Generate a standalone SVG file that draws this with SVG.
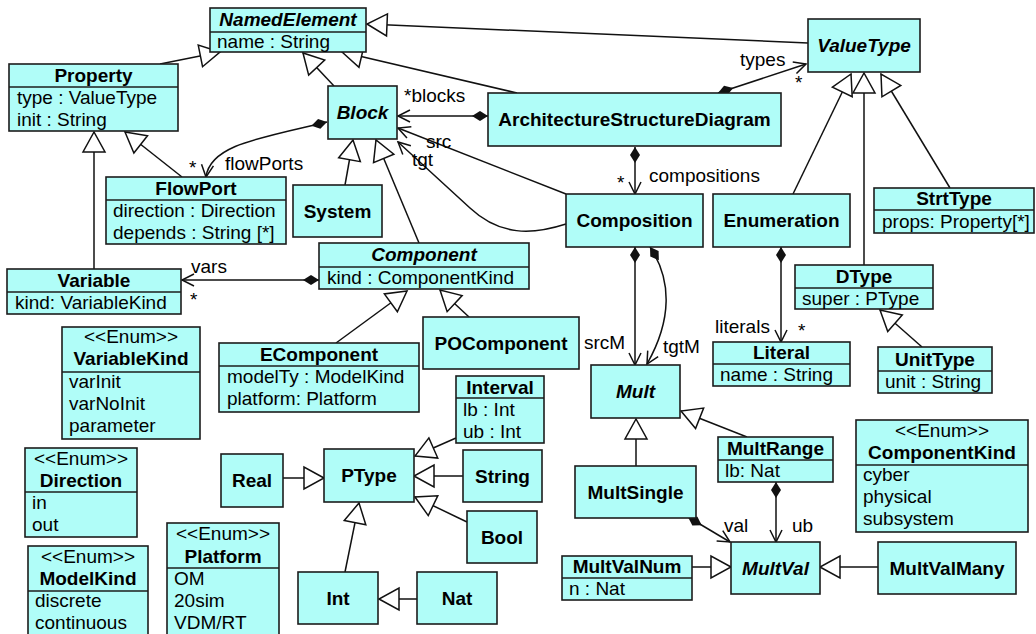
<svg xmlns="http://www.w3.org/2000/svg" width="1036" height="634" viewBox="0 0 1036 634">
  <style>
    .box { fill: #b0fdf8; stroke: #1c1c1c; stroke-width: 1.6; }
    .div { stroke: #1c1c1c; stroke-width: 1.6; }
    .t { font-family: "Liberation Sans", Arial, Helvetica, sans-serif; font-size: 19px; fill: #000; }
    .b { font-weight: bold; }
    .i { font-style: italic; }
    .c { text-anchor: middle; }
    .edge { fill: none; stroke: #111; stroke-width: 1.5; }
    .gen { marker-end: url(#gen); }
    .comp { marker-start: url(#dia); marker-end: url(#arr); }
    .assoc { marker-end: url(#arr); }
  </style>
  <defs>
    <!-- hollow triangle: generalization -->
    <marker id="gen" markerUnits="userSpaceOnUse" viewBox="-22 -13 24 26" markerWidth="24" markerHeight="26" refX="0" refY="0" orient="auto" style="overflow:visible">
      <path d="M0,0 L-20,-11 L-20,11 Z" fill="#fff" stroke="#111" stroke-width="1.5"/>
    </marker>
    <!-- open arrowhead: navigable end -->
    <marker id="arr" markerUnits="userSpaceOnUse" viewBox="-14 -8 16 16" markerWidth="16" markerHeight="16" refX="0" refY="0" orient="auto" style="overflow:visible">
      <path d="M-12,-6 L0,0 L-12,6" fill="none" stroke="#111" stroke-width="1.5"/>
    </marker>
    <!-- filled diamond: composition owner -->
    <marker id="dia" markerUnits="userSpaceOnUse" viewBox="-1 -7 18 14" markerWidth="18" markerHeight="14" refX="0" refY="0" orient="auto" style="overflow:visible">
      <path d="M0,0 L8,-5 L16,0 L8,5 Z" fill="#111"/>
    </marker>
  </defs>

  <!-- connectors -->
  <g id="connectors">
    <!-- generalizations -->
    <path class="edge gen" d="M160,64 L220,52"/>
    <path class="edge gen" d="M334,86 L303,53"/>
    <path class="edge gen" d="M517,93 L342,52"/>
    <path class="edge gen" d="M808,43 L367,24"/>
    <path class="edge gen" d="M182,177 L125,132"/>
    <path class="edge gen" d="M94,269 L94,132"/>
    <path class="edge gen" d="M345,185 L353,140"/>
    <path class="edge gen" d="M419,243 L376,140"/>
    <path class="edge gen" d="M336,343 L407,291"/>
    <path class="edge gen" d="M469,317 L440,290"/>
    <path class="edge gen" d="M793,194 L851,74"/>
    <path class="edge gen" d="M864,265 L864,73"/>
    <path class="edge gen" d="M950,188 L881,74"/>
    <path class="edge gen" d="M922,347 L880,310"/>
    <path class="edge gen" d="M283,478 L324,478"/>
    <path class="edge gen" d="M456,438 L415,456"/>
    <path class="edge gen" d="M463,476 L414,476"/>
    <path class="edge gen" d="M467,522 L415,497"/>
    <path class="edge gen" d="M345,572 L359,503"/>
    <path class="edge gen" d="M417,599 L379,599"/>
    <path class="edge gen" d="M636,466 L636,419"/>
    <path class="edge gen" d="M747,437 L681,411"/>
    <path class="edge gen" d="M692,567 L731,567"/>
    <path class="edge gen" d="M878,567 L820,567"/>

    <!-- compositions -->
    <path class="edge comp" d="M488,116 L398,116"/>
    <path class="edge comp" d="M718,93 L806,64"/>
    <path class="edge comp" d="M635,147 L635,194"/>
    <path class="edge comp" d="M327,122 C260,138 210,145 206,177"/>
    <path class="edge comp" d="M319,280 L182,280"/>
    <path class="edge comp" d="M635,247 L635,365"/>
    <path class="edge comp" d="M650,247 C672,280 672,320 647,364"/>
    <path class="edge comp" d="M781,247 L781,342"/>
    <path class="edge comp" d="M688,517 L730,542"/>
    <path class="edge comp" d="M776,482 L776,542"/>

    <!-- associations -->
    <path class="edge assoc" d="M566,194 L398,128"/>
    <path class="edge assoc" d="M566,224 C532,235 500,236 470,208 L398,142"/>

    <!-- role names and multiplicities -->
    <text class="t" x="404" y="102">*blocks</text>
    <text class="t" x="740" y="66">types</text>
    <text class="t" x="795" y="89">*</text>
    <text class="t" x="617" y="189">*</text>
    <text class="t" x="649" y="182">compositions</text>
    <text class="t" x="189" y="174">*</text>
    <text class="t" x="225" y="170">flowPorts</text>
    <text class="t" x="426" y="148">src</text>
    <text class="t" x="412" y="166">tgt</text>
    <text class="t" x="191" y="273">vars</text>
    <text class="t" x="190" y="306">*</text>
    <text class="t" x="584" y="349">srcM</text>
    <text class="t" x="663" y="353">tgtM</text>
    <text class="t" x="715" y="333">literals</text>
    <text class="t" x="798" y="337">*</text>
    <text class="t" x="724" y="532">val</text>
    <text class="t" x="792" y="532">ub</text>
  </g>

  <!-- classes -->
  <g id="NamedElement">
    <rect class="box" x="210" y="8" width="156" height="44"/>
    <line class="div" x1="210" y1="32" x2="366" y2="32"/>
    <text class="t b i c" x="288" y="26">NamedElement</text>
    <text class="t" x="217" y="48">name : String</text>
  </g>
  <g id="Property">
    <rect class="box" x="9" y="64" width="169" height="67"/>
    <line class="div" x1="9" y1="87" x2="178" y2="87"/>
    <text class="t b c" x="93.5" y="82">Property</text>
    <text class="t" x="17" y="104">type : ValueType</text>
    <text class="t" x="17" y="126">init : String</text>
  </g>
  <g id="FlowPort">
    <rect class="box" x="106" y="177" width="180" height="67"/>
    <line class="div" x1="106" y1="200" x2="286" y2="200"/>
    <text class="t b c" x="196" y="195">FlowPort</text>
    <text class="t" x="113" y="217">direction : Direction</text>
    <text class="t" x="113" y="239">depends : String [*]</text>
  </g>
  <g id="Variable">
    <rect class="box" x="7" y="269" width="174" height="45"/>
    <line class="div" x1="7" y1="292" x2="181" y2="292"/>
    <text class="t b c" x="94" y="287">Variable</text>
    <text class="t" x="15" y="309">kind: VariableKind</text>
  </g>
  <g id="Block">
    <rect class="box" x="328" y="86" width="69" height="53"/>
    <text class="t b i c" x="362.5" y="119">Block</text>
  </g>
  <g id="System">
    <rect class="box" x="293" y="185" width="89" height="52"/>
    <text class="t b c" x="337.5" y="218">System</text>
  </g>
  <g id="ArchitectureStructureDiagram">
    <rect class="box" x="488" y="93" width="293" height="53"/>
    <text class="t b c" x="634.5" y="126">ArchitectureStructureDiagram</text>
  </g>
  <g id="Component">
    <rect class="box" x="319" y="243" width="210" height="46"/>
    <line class="div" x1="319" y1="267" x2="529" y2="267"/>
    <text class="t b i c" x="424" y="261">Component</text>
    <text class="t" x="327" y="284">kind : ComponentKind</text>
  </g>
  <g id="EComponent">
    <rect class="box" x="219" y="343" width="200" height="69"/>
    <line class="div" x1="219" y1="366" x2="419" y2="366"/>
    <text class="t b c" x="319" y="361">EComponent</text>
    <text class="t" x="227" y="383">modelTy : ModelKind</text>
    <text class="t" x="227" y="405">platform: Platform</text>
  </g>
  <g id="POComponent">
    <rect class="box" x="423" y="317" width="156" height="52"/>
    <text class="t b c" x="501" y="350">POComponent</text>
  </g>
  <g id="Composition">
    <rect class="box" x="566" y="194" width="137" height="53"/>
    <text class="t b c" x="634.5" y="227">Composition</text>
  </g>
  <g id="Enumeration">
    <rect class="box" x="713" y="194" width="137" height="53"/>
    <text class="t b c" x="781.5" y="227">Enumeration</text>
  </g>
  <g id="ValueType">
    <rect class="box" x="808" y="19" width="112" height="53"/>
    <text class="t b i c" x="864" y="52">ValueType</text>
  </g>
  <g id="StrtType">
    <rect class="box" x="874" y="188" width="160" height="45"/>
    <line class="div" x1="874" y1="210" x2="1034" y2="210"/>
    <text class="t b c" x="954" y="205">StrtType</text>
    <text class="t" x="882" y="228">props: Property[*]</text>
  </g>
  <g id="DType">
    <rect class="box" x="795" y="265" width="138" height="44"/>
    <line class="div" x1="795" y1="288" x2="933" y2="288"/>
    <text class="t b c" x="864" y="283">DType</text>
    <text class="t" x="802" y="305">super : PType</text>
  </g>
  <g id="Literal">
    <rect class="box" x="713" y="342" width="137" height="44"/>
    <line class="div" x1="713" y1="364" x2="850" y2="364"/>
    <text class="t b c" x="781.5" y="359">Literal</text>
    <text class="t" x="720" y="381">name : String</text>
  </g>
  <g id="UnitType">
    <rect class="box" x="878" y="347" width="114" height="46"/>
    <line class="div" x1="878" y1="371" x2="992" y2="371"/>
    <text class="t b c" x="935" y="366">UnitType</text>
    <text class="t" x="885" y="388">unit : String</text>
  </g>
  <g id="Mult">
    <rect class="box" x="591" y="365" width="89" height="53"/>
    <text class="t b i c" x="635.5" y="398">Mult</text>
  </g>
  <g id="MultRange">
    <rect class="box" x="718" y="437" width="115" height="45"/>
    <line class="div" x1="718" y1="460" x2="833" y2="460"/>
    <text class="t b c" x="775.5" y="455">MultRange</text>
    <text class="t" x="725" y="477">lb: Nat</text>
  </g>
  <g id="MultSingle">
    <rect class="box" x="575" y="466" width="121" height="52"/>
    <text class="t b c" x="635.5" y="499">MultSingle</text>
  </g>
  <g id="MultVal">
    <rect class="box" x="731" y="542" width="89" height="52"/>
    <text class="t b i c" x="775.5" y="575">MultVal</text>
  </g>
  <g id="MultValNum">
    <rect class="box" x="562" y="556" width="130" height="44"/>
    <line class="div" x1="562" y1="578" x2="692" y2="578"/>
    <text class="t b c" x="627" y="573">MultValNum</text>
    <text class="t" x="569" y="595">n : Nat</text>
  </g>
  <g id="MultValMany">
    <rect class="box" x="878" y="542" width="138" height="52"/>
    <text class="t b c" x="947" y="575">MultValMany</text>
  </g>
  <g id="ComponentKind">
    <rect class="box" x="856" y="420" width="172" height="112"/>
    <line class="div" x1="856" y1="465" x2="1028" y2="465"/>
    <text class="t c" x="942" y="437">&lt;&lt;Enum&gt;&gt;</text>
    <text class="t b c" x="942" y="459">ComponentKind</text>
    <text class="t" x="863" y="481">cyber</text>
    <text class="t" x="863" y="503">physical</text>
    <text class="t" x="863" y="525">subsystem</text>
  </g>
  <g id="VariableKind">
    <rect class="box" x="62" y="327" width="138" height="112"/>
    <line class="div" x1="62" y1="372" x2="200" y2="372"/>
    <text class="t c" x="131" y="343">&lt;&lt;Enum&gt;&gt;</text>
    <text class="t b c" x="131" y="365">VariableKind</text>
    <text class="t" x="69" y="388">varInit</text>
    <text class="t" x="69" y="410">varNoInit</text>
    <text class="t" x="69" y="432">parameter</text>
  </g>
  <g id="Direction">
    <rect class="box" x="25" y="448" width="112" height="89"/>
    <line class="div" x1="25" y1="492" x2="137" y2="492"/>
    <text class="t c" x="81" y="465">&lt;&lt;Enum&gt;&gt;</text>
    <text class="t b c" x="81" y="487">Direction</text>
    <text class="t" x="32" y="509">in</text>
    <text class="t" x="32" y="531">out</text>
  </g>
  <g id="ModelKind">
    <rect class="box" x="28" y="546" width="120" height="96"/>
    <line class="div" x1="28" y1="591" x2="148" y2="591"/>
    <text class="t c" x="88" y="563">&lt;&lt;Enum&gt;&gt;</text>
    <text class="t b c" x="88" y="585">ModelKind</text>
    <text class="t" x="35" y="607">discrete</text>
    <text class="t" x="35" y="629">continuous</text>
  </g>
  <g id="Platform">
    <rect class="box" x="167" y="523" width="112" height="119"/>
    <line class="div" x1="167" y1="568" x2="279" y2="568"/>
    <text class="t c" x="223" y="540">&lt;&lt;Enum&gt;&gt;</text>
    <text class="t b c" x="223" y="563">Platform</text>
    <text class="t" x="174" y="585">OM</text>
    <text class="t" x="174" y="607">20sim</text>
    <text class="t" x="174" y="629">VDM/RT</text>
  </g>
  <g id="Interval">
    <rect class="box" x="456" y="376" width="88" height="67"/>
    <line class="div" x1="456" y1="398" x2="544" y2="398"/>
    <text class="t b c" x="500" y="394">Interval</text>
    <text class="t" x="463" y="416">lb : Int</text>
    <text class="t" x="463" y="438">ub : Int</text>
  </g>
  <g id="Real">
    <rect class="box" x="221" y="454" width="62" height="53"/>
    <text class="t b c" x="252" y="487">Real</text>
  </g>
  <g id="PType">
    <rect class="box" x="324" y="449" width="90" height="53"/>
    <text class="t b c" x="369" y="482">PType</text>
  </g>
  <g id="String">
    <rect class="box" x="463" y="450" width="79" height="52"/>
    <text class="t b c" x="502.5" y="483">String</text>
  </g>
  <g id="Bool">
    <rect class="box" x="467" y="511" width="70" height="52"/>
    <text class="t b c" x="502" y="544">Bool</text>
  </g>
  <g id="Int">
    <rect class="box" x="298" y="572" width="80" height="52"/>
    <text class="t b c" x="338" y="605">Int</text>
  </g>
  <g id="Nat">
    <rect class="box" x="417" y="572" width="80" height="52"/>
    <text class="t b c" x="457" y="605">Nat</text>
  </g>
</svg>
